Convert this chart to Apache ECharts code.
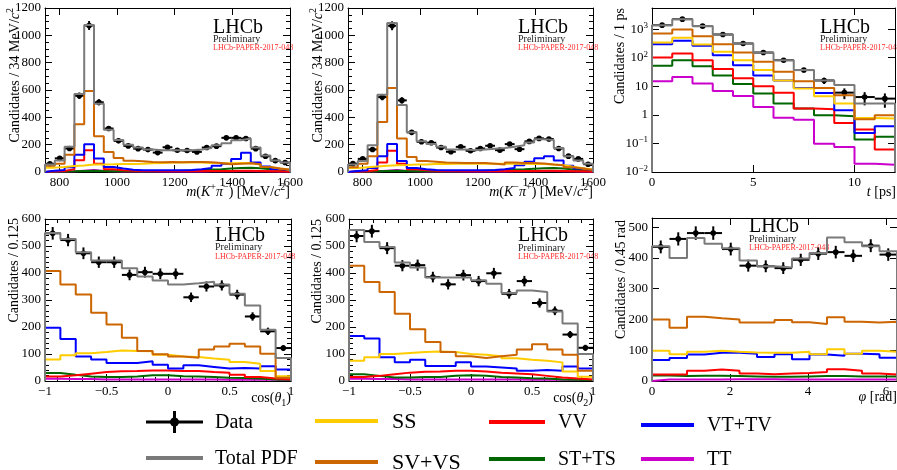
<!DOCTYPE html>
<html>
<head>
<meta charset="utf-8">
<title>LHCb fit projections</title>
<script src="https://cdn.jsdelivr.net/npm/echarts@6.0.0/dist/echarts.min.js"></script>
<style>
  html, body { margin: 0; padding: 0; background: #fff; }
  #chart { width: 897px; height: 470px; }
</style>
</head>
<body>
<div id="chart"></div>
<script>
// m(K+ pi-) : 25 bins of 34 MeV/c2 from 750 to 1600
var mKpiData  = [60, 100, 172, 558, 1072, 510, 318, 228, 191, 171, 164, 142, 181, 159, 157, 147, 179, 189, 250, 250, 245, 171, 115, 83, 69];
var mKpiTotal = [55, 85, 185, 570, 1075, 500, 310, 235, 200, 180, 165, 160, 160, 160, 160, 165, 175, 195, 210, 233, 245, 180, 120, 85, 70];
var mKpiSVVS  = [45, 60, 127, 350, 593, 262, 147, 103, 83, 78, 73, 71, 73, 71, 73, 73, 71, 66, 56, 61, 64, 56, 37, 25, 17];
var mKpiSS    = [32, 37, 44, 47, 54, 54, 56, 59, 59, 61, 64, 66, 69, 69, 69, 69, 66, 64, 64, 66, 64, 54, 37, 25, 17];
var mKpiVTTV  = [10, 15, 35, 127, 203, 98, 37, 25, 17, 12, 12, 12, 12, 12, 15, 20, 30, 45, 60, 95, 140, 70, 40, 22, 15];
var mKpiVV    = [5, 8, 20, 86, 160, 61, 20, 12, 10, 8, 7, 7, 7, 7, 7, 7, 8, 8, 8, 9, 10, 8, 6, 5, 4];
var mKpiSTTS  = [3, 3, 5, 8, 10, 8, 6, 5, 5, 5, 6, 7, 8, 10, 12, 15, 18, 20, 25, 30, 32, 28, 20, 14, 10];
var mKpiTT    = [2, 3, 5, 10, 15, 8, 5, 4, 4, 4, 4, 4, 4, 4, 4, 4, 5, 5, 6, 7, 7, 6, 5, 4, 3];

// m(K- pi+)
var mpiKData  = [61, 96, 165, 548, 1070, 524, 290, 221, 214, 179, 148, 184, 155, 172, 192, 160, 204, 167, 224, 246, 241, 172, 116, 96, 57];
var mpiKTotal = [55, 80, 195, 565, 1090, 490, 290, 225, 205, 185, 165, 165, 160, 165, 170, 175, 185, 195, 215, 240, 235, 175, 115, 85, 60];
var mpiKSVVS  = [35, 60, 115, 365, 615, 245, 110, 80, 75, 70, 68, 65, 65, 65, 60, 55, 70, 65, 65, 62, 55, 50, 35, 25, 15];
var mpiKSS    = [30, 35, 40, 45, 50, 52, 55, 55, 58, 58, 60, 60, 60, 60, 60, 60, 60, 60, 58, 58, 55, 50, 38, 27, 18];
var mpiKVTTV  = [8, 12, 30, 115, 205, 80, 30, 20, 15, 12, 12, 12, 12, 12, 15, 20, 30, 50, 75, 100, 115, 85, 45, 25, 15];
var mpiKVV    = [4, 6, 15, 70, 155, 60, 20, 12, 10, 8, 7, 7, 7, 7, 7, 7, 8, 8, 8, 9, 10, 8, 6, 5, 4];
var mpiKSTTS  = [3, 3, 5, 8, 10, 8, 6, 5, 5, 5, 6, 7, 8, 10, 12, 15, 18, 20, 24, 28, 30, 26, 18, 12, 8];
var mpiKTT    = [2, 3, 5, 10, 14, 8, 5, 4, 4, 4, 4, 4, 4, 4, 4, 4, 5, 5, 6, 7, 7, 6, 5, 4, 3];

// decay time t : 12 bins of 1 ps
var tData  = [1380, 2240, 1275, 650, 315, 152, 82, 37, 16, 6.0, 4.2, 3.7];
var tTotal = [1380, 2240, 1300, 650, 315, 150, 82, 37, 16, 11, 2.5, 2.5];
var tSVVS  = [700, 970, 570, 298, 152, 72, 32, 15, 8.8, 4.9, 0.70, 0.97];
var tSS    = [341, 497, 290, 161, 82, 37, 16, 8.3, 4.5, 2.5, 0.78, 0.74];
var tVTTV  = [298, 390, 260, 123, 55, 24, 16, 8.8, 5.8, 1.45, 0.23, 0.40];
var tVV    = [102, 140, 82, 40, 19, 10, 5.9, 1.66, 1.57, 0.52, 0.31, 0.061];
var tSTTS  = [52, 82, 50, 24, 12, 5.6, 2.5, 1.66, 0.97, 0.89, 0.136, 0.17];
var tTT    = [15, 21, 12.5, 6.9, 4.6, 1.9, 0.80, 0.68, 0.098, 0.075, 0.0196, 0.018];

// cos(theta1) : 16 bins of 0.125
var cos1Data  = [547, 522, 473, 440, 440, 393, 403, 397, 397, 310, 350, 354, 320, 239, 184, 122];
var cos1Total = [548, 526, 477, 446, 446, 418, 387, 372, 357, 362, 368, 357, 323, 280, 190, 85];
var cos1SVVS  = [407, 357, 320, 253, 209, 160, 111, 99, 91, 86, 117, 128, 138, 128, 101, 12];
var cos1SS    = [80, 95, 103, 107, 113, 111, 110, 97, 91, 89, 83, 79, 70, 64, 37, 18];
var cos1VTTV  = [197, 156, 91, 80, 67, 67, 73, 60, 46, 58, 52, 46, 48, 46, 55, 43];
var cos1VV    = [17, 21, 27, 33, 36, 37, 39, 39, 37, 37, 33, 31, 23, 15, 9, 6];
var cos1STTS  = [30, 23, 17, 15, 15, 17, 21, 21, 18, 17, 15, 12, 11, 9, 6, 5];
var cos1TT    = [8, 7, 7, 6, 6, 6, 6, 6, 6, 6, 6, 5, 5, 5, 5, 4];

// cos(theta2)
var cos2Data  = [537, 555, 492, 427, 429, 385, 358, 392, 370, 399, 323, 370, 289, 260, 172, 123];
var cos2Total = [559, 515, 496, 439, 420, 383, 383, 383, 373, 360, 326, 335, 330, 257, 213, 100];
var cos2SVVS  = [427, 367, 330, 249, 192, 144, 107, 92, 85, 92, 97, 117, 136, 117, 97, 38];
var cos2SS    = [75, 88, 100, 104, 107, 109, 107, 100, 97, 92, 84, 79, 75, 69, 35, 16];
var cos2VTTV  = [167, 157, 88, 69, 79, 56, 56, 69, 54, 50, 46, 38, 41, 38, 54, 46];
var cos2VV    = [15, 19, 25, 31, 34, 35, 38, 38, 35, 31, 28, 25, 19, 13, 9, 6];
var cos2STTS  = [25, 19, 13, 13, 15, 15, 19, 21, 19, 15, 13, 10, 9, 6, 5, 4];
var cos2TT    = [8, 7, 7, 6, 6, 6, 6, 6, 6, 6, 6, 5, 5, 5, 5, 4];

// phi : 14 bins over [0, 2pi]
var phiData  = [436, 462, 481, 481, 429, 375, 373, 367, 394, 414, 419, 407, 440, 411];
var phiTotal = [438, 400, 465, 446, 432, 392, 373, 369, 398, 416, 467, 451, 438, 422];
var phiSVVS  = [200, 173, 209, 204, 200, 190, 190, 198, 191, 185, 207, 193, 190, 193];
var phiSS    = [98, 87, 95, 98, 95, 93, 92, 92, 95, 87, 103, 89, 98, 95];
var phiVTTV  = [68, 75, 86, 92, 92, 89, 78, 87, 71, 86, 82, 89, 87, 76];
var phiVV    = [21, 21, 33, 37, 33, 24, 22, 24, 26, 29, 38, 33, 24, 21];
var phiSTTS  = [18, 16, 17, 17, 16, 15, 14, 14, 15, 16, 16, 15, 15, 15];
var phiTT    = [5, 5, 5, 5, 6, 6, 6, 5, 5, 5, 5, 5, 5, 5];

var SERIF = 'Liberation Serif';
var colors = {
    tot: '#7a7a7a', ss: '#ffcc00', svvs: '#cc6600', vv: '#ff0000',
    stts: '#006600', vttv: '#0000ff', tt: '#cc00cc'
};
var drawOrder = ['tt', 'stts', 'vv', 'vttv', 'ss', 'svvs', 'tot'];

var logLabel = function (v) {
    var e = Math.round(Math.log10(v));
    if (e === 0) return '{n|1}';
    if (e === 1) return '{n|10}';
    return '{n|10}{sup|' + (e < 0 ? '\u2212' + (-e) : e) + '}';
};
var plainLabel = function (v) { return String(v).replace('-', '\u2212'); };

var panels = [
    {
        lo: 750, hi: 1600,
        grid: {left: 45, top: 8, width: 245, height: 164},
        x: {min: 750, max: 1600, ticks: [800, 1000, 1200, 1400, 1600]},
        y: {min: 0, max: 1200, interval: 200, minor: 4},
        data: mKpiData,
        comps: {tot: mKpiTotal, svvs: mKpiSVVS, ss: mKpiSS, vttv: mKpiVTTV, vv: mKpiVV, stts: mKpiSTTS, tt: mKpiTT}
    },
    {
        lo: 750, hi: 1600,
        grid: {left: 348, top: 8, width: 245, height: 164},
        x: {min: 750, max: 1600, ticks: [800, 1000, 1200, 1400, 1600]},
        y: {min: 0, max: 1200, interval: 200, minor: 4},
        data: mpiKData,
        comps: {tot: mpiKTotal, svvs: mpiKSVVS, ss: mpiKSS, vttv: mpiKVTTV, vv: mpiKVV, stts: mpiKSTTS, tt: mpiKTT}
    },
    {
        lo: 0, hi: 12, log: true,
        grid: {left: 652, top: 8, width: 243, height: 164},
        x: {min: 0, max: 12, ticks: [0, 5, 10]},
        y: {log: true, min: 0.01, max: 5500, hideMax: true, fmt: logLabel,
            rich: {n: {fontFamily: SERIF, fontSize: 13, lineHeight: 16},
                   sup: {fontFamily: SERIF, fontSize: 9, lineHeight: 9, verticalAlign: 'top'}}},
        data: tData,
        comps: {tot: tTotal, svvs: tSVVS, ss: tSS, vttv: tVTTV, vv: tVV, stts: tSTTS, tt: tTT}
    },
    {
        lo: -1, hi: 1,
        grid: {left: 45, top: 219, width: 246, height: 162},
        x: {min: -1, max: 1, interval: 0.5, minor: 5},
        y: {min: 0, max: 600, interval: 100, minor: 5},
        data: cos1Data,
        comps: {tot: cos1Total, svvs: cos1SVVS, ss: cos1SS, vttv: cos1VTTV, vv: cos1VV, stts: cos1STTS, tt: cos1TT}
    },
    {
        lo: -1, hi: 1,
        grid: {left: 349, top: 219, width: 244, height: 162},
        x: {min: -1, max: 1, interval: 0.5, minor: 5},
        y: {min: 0, max: 600, interval: 100, minor: 5},
        data: cos2Data,
        comps: {tot: cos2Total, svvs: cos2SVVS, ss: cos2SS, vttv: cos2VTTV, vv: cos2VV, stts: cos2STTS, tt: cos2TT}
    },
    {
        lo: 0, hi: 2 * Math.PI,
        grid: {left: 652, top: 218, width: 245, height: 163},
        x: {min: 0, max: 2 * Math.PI, ticks: [0, 2, 4, 6]},
        y: {min: 0, max: 530, ticks: [0, 100, 200, 300, 400, 500]},
        data: phiData,
        comps: {tot: phiTotal, svvs: phiSVVS, ss: phiSS, vttv: phiVTTV, vv: phiVV, stts: phiSTTS, tt: phiTT}
    }
];

function makeAxis(g, pos, s, labelled) {
    var ax = {
        gridIndex: g,
        position: pos,
        type: s.log ? 'log' : 'value',
        min: s.min,
        max: s.max,
        axisLine: {show: true, onZero: false, lineStyle: {color: '#000', width: 1}},
        axisTick: {show: true, inside: true, length: 7, lineStyle: {color: '#000', width: 1}},
        minorTick: {show: !!s.minor, splitNumber: s.minor || 5, length: 4, lineStyle: {color: '#000', width: 1}},
        splitLine: {show: false},
        axisLabel: {show: labelled, fontFamily: SERIF, fontSize: 13, color: '#000', margin: 4,
                    formatter: s.fmt || plainLabel}
    };
    if (s.log) ax.logBase = 10;
    if (s.interval) ax.interval = s.interval;
    if (s.ticks) {
        ax.axisTick.customValues = s.ticks;
        ax.axisLabel.customValues = s.ticks;
    }
    if (s.rich) ax.axisLabel.rich = s.rich;
    if (s.hideMax) ax.axisLabel.showMaxLabel = false;
    return ax;
}

// histogram outline: left edge of each bin, closing edge, back to baseline
function stepData(lo, hi, vals, base) {
    var w = (hi - lo) / vals.length;
    var pts = [[lo, base]];
    vals.forEach(function (v, i) { pts.push([lo + i * w, v]); });
    pts.push([hi, vals[vals.length - 1]]);
    pts.push([hi, base]);
    return pts;
}

// data marker: bin-wide horizontal bar, Poisson vertical error, dot
function dataPoint(hw) {
    return function (params, api) {
        var x = api.value(0), y = api.value(1), e = Math.sqrt(y);
        var c = api.coord([x, y]);
        var l = api.coord([x - hw, y]);
        var r = api.coord([x + hw, y]);
        var t = api.coord([x, y + e]);
        var b = api.coord([x, y - e]);
        var st = {stroke: '#000', lineWidth: 2};
        return {
            type: 'group',
            children: [
                {type: 'line', shape: {x1: l[0], y1: l[1], x2: r[0], y2: r[1]}, style: st},
                {type: 'line', shape: {x1: b[0], y1: b[1], x2: t[0], y2: t[1]}, style: st},
                {type: 'circle', shape: {cx: c[0], cy: c[1], r: 2.8}, style: {fill: '#000'}}
            ]
        };
    };
}

var grids = [], xAxes = [], yAxes = [], series = [];
panels.forEach(function (p, g) {
    grids.push(Object.assign({outerBoundsMode: 'none', containLabel: false}, p.grid));
    xAxes.push(makeAxis(g, 'bottom', p.x, true));
    xAxes.push(makeAxis(g, 'top', p.x, false));
    yAxes.push(makeAxis(g, 'left', p.y, true));
    yAxes.push(makeAxis(g, 'right', p.y, false));
    var base = p.log ? p.y.min : 0;
    drawOrder.forEach(function (k) {
        series.push({
            type: 'line', xAxisIndex: 2 * g, yAxisIndex: 2 * g,
            step: 'end', symbol: 'none', silent: true, clip: true,
            lineStyle: {color: colors[k], width: 2},
            data: stepData(p.lo, p.hi, p.comps[k], base)
        });
    });
    var w = (p.hi - p.lo) / p.data.length;
    series.push({
        type: 'custom', xAxisIndex: 2 * g, yAxisIndex: 2 * g, clip: true, silent: true,
        data: p.data.map(function (v, i) { return [p.lo + (i + 0.5) * w, v]; }),
        renderItem: dataPoint(w / 2)
    });
});

var RICH = {
    n: {fontFamily: SERIF, fontSize: 14, lineHeight: 20, fill: '#000'},
    i: {fontFamily: SERIF, fontSize: 14, fontStyle: 'italic', lineHeight: 20, fill: '#000'},
    sup: {fontFamily: SERIF, fontSize: 10, lineHeight: 10, verticalAlign: 'top', fill: '#000'},
    sub: {fontFamily: SERIF, fontSize: 10, lineHeight: 10, verticalAlign: 'bottom', fill: '#000'}
};

function label(x, y, text, align, rot) {
    return {
        type: 'text', x: x, y: y, rotation: rot || 0, silent: true,
        style: {text: text, align: align, verticalAlign: 'middle', rich: RICH, fontFamily: SERIF, fontSize: 14}
    };
}
function plain(x, y, text, size, color, align) {
    return {
        type: 'text', x: x, y: y, silent: true,
        style: {text: text, fontFamily: SERIF, fontSize: size, fill: color, align: align || 'left', verticalAlign: 'middle'}
    };
}

var yTitles = [
    [15, 8, '{n|Candidates / 34 MeV/}{i|c}{sup|2}'],
    [318, 8, '{n|Candidates / 34 MeV/}{i|c}{sup|2}'],
    [620, 8, '{n|Candidates / 1 ps}'],
    [14, 218, '{n|Candidates / 0.125}'],
    [317, 219, '{n|Candidates / 0.125}'],
    [621, 220, '{n|Candidates / 0.45 rad}']
];
var xTitles = [
    [290, 192, '{i|m}{n|(}{i|K}{sup|+}{i|\u03c0}{sup|\u2212}{n|) [MeV/}{i|c}{sup|2}{n|]}'],
    [593, 192, '{i|m}{n|(}{i|K}{sup|\u2212}{i|\u03c0}{sup|+}{n|) [MeV/}{i|c}{sup|2}{n|]}'],
    [896, 192, '{i|t}{n| [ps]}'],
    [291, 398, '{n|cos(}{i|\u03b8}{sub|1}{n|)}'],
    [593, 398, '{n|cos(}{i|\u03b8}{sub|2}{n|)}'],
    [897, 397, '{i|\u03c6}{n| [rad]}']
];
var tags = [
    [213, 28, 39, 47.5],
    [518, 28, 39, 48],
    [820, 28, 39, 47.5],
    [215, 236, 247.5, 256.5],
    [518, 236, 248, 257],
    [749, 226.5, 239, 248]
];

var graphics = [];
yTitles.forEach(function (t) { graphics.push(label(t[0], t[1], t[2], 'right', Math.PI / 2)); });
xTitles.forEach(function (t) { graphics.push(label(t[0], t[1], t[2], 'right')); });
tags.forEach(function (t) {
    graphics.push(plain(t[0], t[1], 'LHCb', 20, '#000'));
    graphics.push(plain(t[0], t[2], 'Preliminary', 10, '#222'));
    graphics.push(plain(t[0], t[3], 'LHCb-PAPER-2017-048', 8, '#ff2a2a'));
});

// legend
var legendItems = [
    {name: 'Data', key: 'data', x: 146, y: 422, size: 20},
    {name: 'SS', key: 'ss', x: 315, y: 421, size: 22},
    {name: 'VV', key: 'vv', x: 489, y: 422, size: 20},
    {name: 'VT+TV', key: 'vttv', x: 641, y: 425, size: 20},
    {name: 'Total PDF', key: 'tot', x: 146, y: 458, size: 20},
    {name: 'SV+VS', key: 'svvs', x: 315, y: 462, size: 22},
    {name: 'ST+TS', key: 'stts', x: 489, y: 459, size: 20},
    {name: 'TT', key: 'tt', x: 641, y: 459, size: 20}
];
var legendLen = {146: 57, 315: 63, 489: 56, 641: 53};
var legendText = {146: 215, 315: 392, 489: 558, 641: 707};
legendItems.forEach(function (it) {
    var len = legendLen[it.x];
    if (it.key === 'data') {
        graphics.push({type: 'line', silent: true, shape: {x1: it.x, y1: it.y, x2: it.x + len, y2: it.y}, style: {stroke: '#000', lineWidth: 3}});
        graphics.push({type: 'line', silent: true, shape: {x1: it.x + len / 2, y1: it.y - 11, x2: it.x + len / 2, y2: it.y + 11}, style: {stroke: '#000', lineWidth: 3}});
        graphics.push({type: 'circle', silent: true, shape: {cx: it.x + len / 2, cy: it.y, r: 4.5}, style: {fill: '#000'}});
    } else {
        graphics.push({type: 'line', silent: true, shape: {x1: it.x, y1: it.y, x2: it.x + len, y2: it.y}, style: {stroke: colors[it.key], lineWidth: 4}});
    }
    graphics.push(plain(legendText[it.x], it.y + 1, it.name, it.size, '#000'));
});

var chart = echarts.init(document.getElementById('chart'), null, {renderer: 'canvas'});
chart.setOption({
    backgroundColor: '#fff',
    animation: false,
    grid: grids,
    xAxis: xAxes,
    yAxis: yAxes,
    series: series,
    graphic: graphics
});
</script>
</body>
</html>
